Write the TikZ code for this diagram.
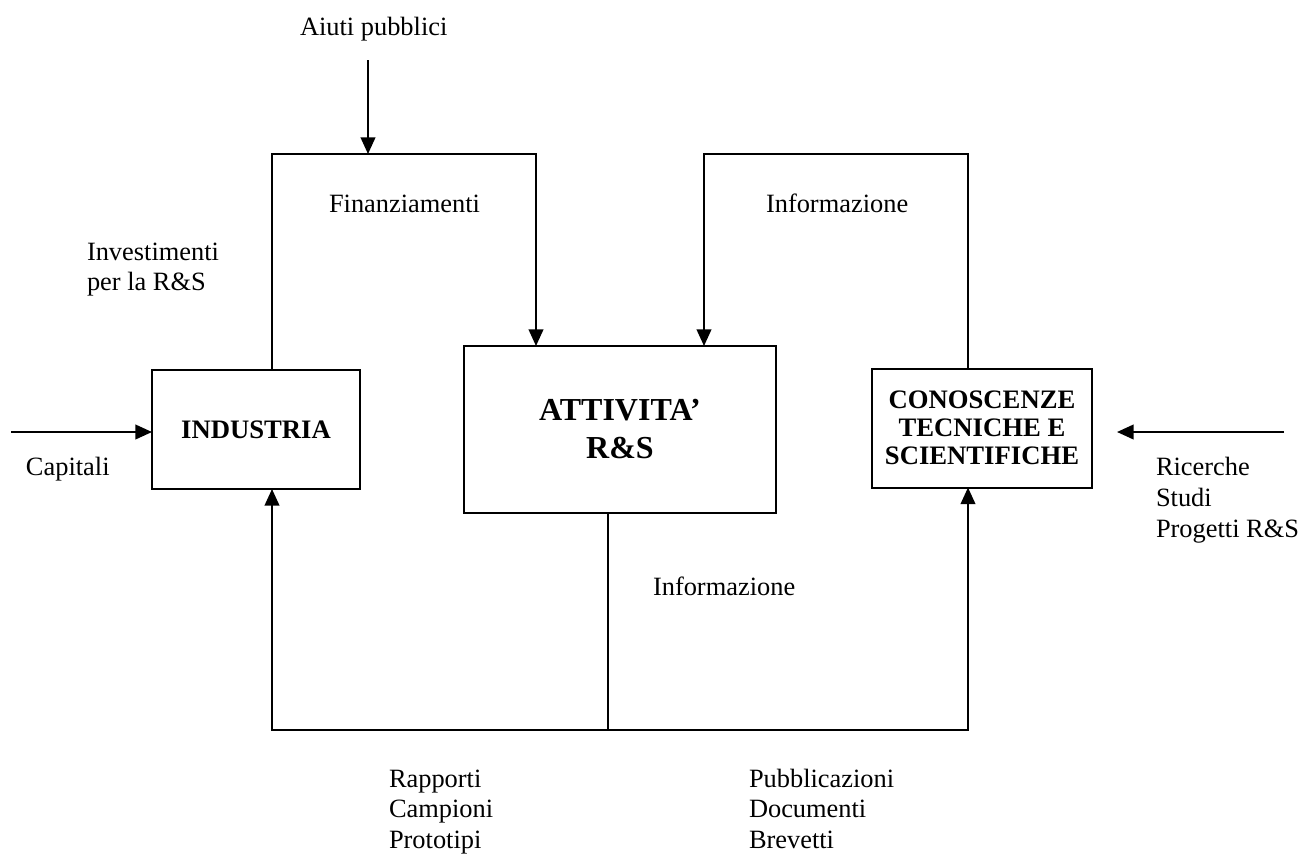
\documentclass[tikz,border=0pt]{standalone}
\usepackage{fontspec}
\setmainfont{Liberation Serif}
\usetikzlibrary{arrows.meta}
\begin{document}
\begin{tikzpicture}[x=0.75pt,y=-0.75pt,
  line width=1.5pt,
  flow/.style={-{Triangle[length=12.5pt,width=11pt]}},
  blockbox/.style={draw, inner sep=0pt, outer sep=0pt, align=center,
    font=\fontsize{20}{21}\selectfont\bfseries},
  lbl/.style={anchor=base west, inner sep=0pt, font=\fontsize{19.8}{22.5}\selectfont}]
\useasboundingbox (0,0) rectangle (1302,857);

% blocks
\node[blockbox, minimum width=156pt, minimum height=89.25pt] (ind) at (256,429.5) {INDUSTRIA};
\node[blockbox, minimum width=234pt, minimum height=125.25pt,
      font=\fontsize{24}{28.5}\selectfont\bfseries] (att) at (620,429.5) {ATTIVITA'\\R\&S};
\node[blockbox, minimum width=165pt, minimum height=89.25pt] (con) at (982,428)
      {CONOSCENZE\\TECNICHE E\\SCIENTIFICHE};

% routing points
\coordinate (cap) at (11,432);
\coordinate (ricA) at (1284,432);
\coordinate (ricB) at (1117,432);
\coordinate (aiu) at (368,60);
\coordinate (jl) at (272,154);
\coordinate (jr) at (536,154);
\coordinate (kl) at (704,154);
\coordinate (kr) at (968,154);
\coordinate (bm) at (608,730);
\coordinate (bl) at (272,730);
\coordinate (br) at (968,730);

% inputs
\draw[flow] (cap) -- (cap -| ind.west);
\draw[flow] (ricA) -- (ricB);
\draw[flow] (aiu) -- (aiu |- jl);

% funding loop
\draw[flow, line join=miter] (jl |- ind.north) -- (jl) -- (jr) -- (jr |- att.north);
% knowledge loop
\draw[flow, line join=miter] (kr |- con.north) -- (kr) -- (kl) -- (kl |- att.north);
% output distribution
\draw (bm |- att.south) -- (bm);
\draw[flow, line join=miter] (bm) -- (bl) -- (bl |- ind.south);
\draw[flow, line join=miter] (bm) -- (br) -- (br |- con.south);

% labels
\node[lbl] (t1) at (299,35) {Aiuti pubblici};
\node[lbl] (t2) at (328,212) {Finanziamenti};
\node[lbl] (t3) at (86,260) {Investimenti};
\node[lbl] (t4) at (86,290) {per la R\&S};
\node[lbl] (t5) at (765,212) {Informazione};
\node[lbl] (t6) at (652,595) {Informazione};
\node[lbl] (t7) at (25,475) {Capitali};
\node[lbl] (t8) at (1155,475) {Ricerche};
\node[lbl] (t9) at (1155,506) {Studi};
\node[lbl] (t10) at (1155,537) {Progetti R\&S};
\node[lbl] (t11) at (388,787) {Rapporti};
\node[lbl] (t12) at (388,817) {Campioni};
\node[lbl] (t13) at (388,848) {Prototipi};
\node[lbl] (t14) at (748,787) {Pubblicazioni};
\node[lbl] (t15) at (748,817) {Documenti};
\node[lbl] (t16) at (748,848) {Brevetti};
\end{tikzpicture}
\end{document}
